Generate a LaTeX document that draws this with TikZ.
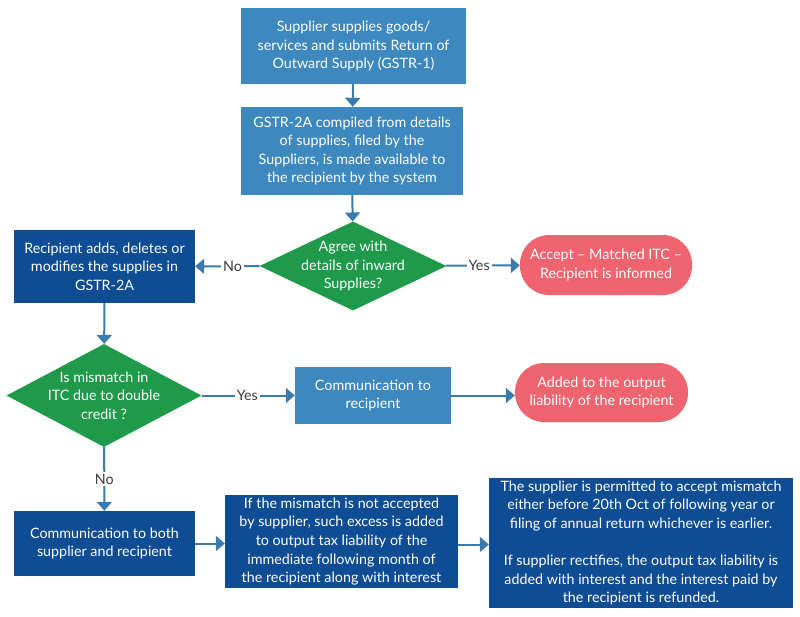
\documentclass[tikz,border=0pt]{standalone}
\usepackage{fontspec}
\setmainfont{Lato}
\usetikzlibrary{shapes.geometric,arrows.meta,positioning}
\definecolor{lightblue}{RGB}{61,136,191}
\definecolor{darkblue}{RGB}{14,76,148}
\definecolor{decgreen}{RGB}{30,154,74}
\definecolor{pillred}{RGB}{240,100,111}
\definecolor{arrowblue}{RGB}{58,122,172}
\definecolor{labelgray}{RGB}{60,60,60}

\begin{document}
\begin{tikzpicture}[x=1pt, y=-1pt, font=\fontsize{14.3}{18.6}\selectfont]
\tikzstyle{process} = [rectangle, inner sep=0pt, text centered, align=center, text=white, fill=lightblue]
\tikzstyle{process2} = [process, fill=darkblue]
\tikzstyle{result} = [rectangle, rounded corners=29pt, inner sep=0pt, align=center, text=white, fill=pillred]
\tikzstyle{decision} = [diamond, inner sep=0pt, fill=decgreen, label={[align=center, text=white]center:#1}]
\tikzstyle{arrow} = [draw=arrowblue, line width=2pt, -{Triangle[width=15pt,length=9pt]}]
\tikzstyle{answer} = [fill=white, text=labelgray, inner sep=2pt]

\useasboundingbox [fill=white] (0,0) rectangle (800,616);

\node (Supplier) [process, minimum width=225pt, minimum height=76pt] at (353.5,46)
  {Supplier supplies goods/\\services and submits Return of\\Outward Supply (GSTR-1)};
\node (GSTR2A) [process, minimum width=222pt, minimum height=88pt] at (352,151)
  {GSTR-2A compiled from details\\of supplies, filed by the\\Suppliers, is made available to\\the recipient by the system};
\node (Agree) [decision={Agree with\\details of inward\\Supplies?}, minimum width=187pt, minimum height=89pt] at (353,266) {};
\node (Modify) [process2, minimum width=181pt, minimum height=73pt] at (104.5,266.5)
  {Recipient adds, deletes or\\modifies the supplies in\\GSTR-2A};
\node (Accept) [result, minimum width=172pt, minimum height=60pt] at (606,265)
  {Accept -- Matched ITC --\\Recipient is informed};
\node (Double) [decision={Is mismatch in\\ITC due to double\\credit ?}, minimum width=195pt, minimum height=103pt] at (104,395.5) {};
\node (CommRec) [process, minimum width=156pt, minimum height=57pt] at (373,395.5)
  {Communication to\\recipient};
\node (Output) [result, minimum width=173pt, minimum height=59pt] at (601.5,392.5)
  {Added to the output\\liability of the recipient};
\node (CommBoth) [process2, minimum width=181pt, minimum height=65pt] at (104.5,543.5)
  {Communication to both\\supplier and recipient};
\node (NotAccepted) [process2, minimum width=233pt, minimum height=93pt] at (341.5,541.5)
  {If the mismatch is not accepted\\by supplier, such excess is added\\to output tax liability of the\\immediate following month of\\the recipient along with interest};
\node (Permitted) [process2, minimum width=304pt, minimum height=130pt] at (641,543)
  {The supplier is permitted to accept mismatch\\either before 20th Oct of following year or\\filing of annual return whichever is earlier.\\[18.6pt]If supplier rectifies, the output tax liability is\\added with interest and the interest paid by\\the recipient is refunded.};

\draw [arrow] (Supplier) -- (GSTR2A);
\draw [arrow] (GSTR2A) -- (Agree);
\draw [arrow] (Agree) -- node[answer, pos=0.42] {No} (Modify);
\draw [arrow] (Agree) -- node[answer, pos=0.45] {Yes} (Accept);
\draw [arrow] (Modify) -- (Double);
\draw [arrow] (Double) -- node[answer, pos=0.49] {Yes} (CommRec);
\draw [arrow] (CommRec.east) -- (CommRec.east -| Output.west);
\draw [arrow] (Double) -- node[answer, pos=0.5] {No} (CommBoth);
\draw [arrow] (CommBoth.east) -- (CommBoth.east -| NotAccepted.west);
\draw [arrow] ([yshift=-3pt]NotAccepted.east) -- ([yshift=-3pt]NotAccepted.east -| Permitted.west);
\end{tikzpicture}
\end{document}
